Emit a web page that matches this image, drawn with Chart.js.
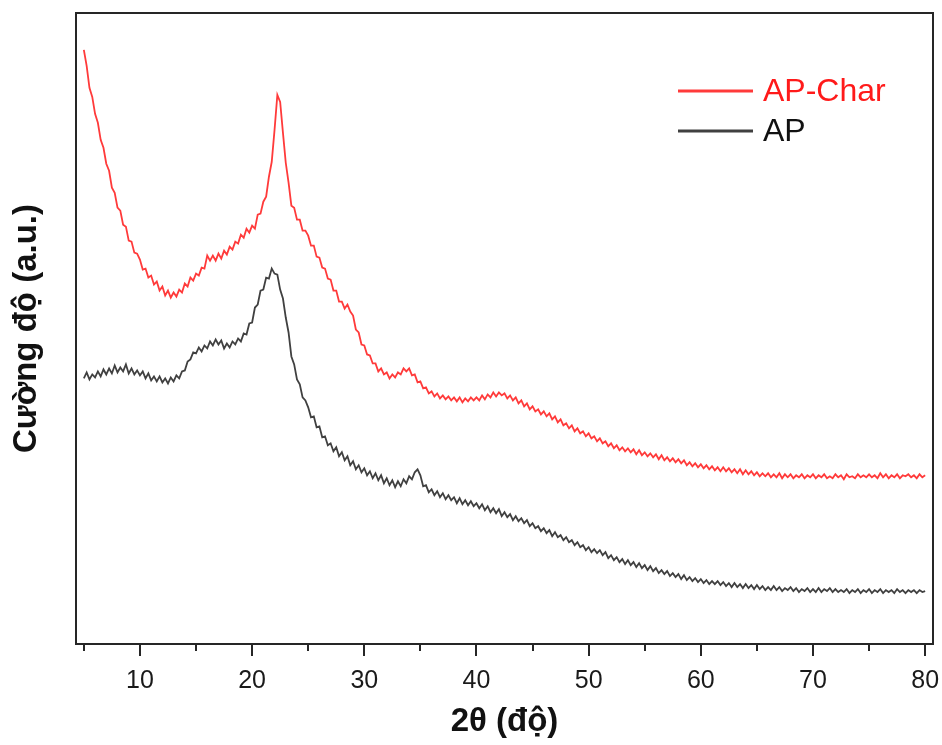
<!DOCTYPE html>
<html>
<head>
<meta charset="utf-8">
<script src="https://cdn.jsdelivr.net/npm/chart.js@4.4.1/dist/chart.umd.min.js"></script>
<style>
  html, body { margin: 0; padding: 0; background: #fff; }
  canvas { display: block; }
</style>
</head>
<body>
<canvas id="xrd" width="942" height="745"></canvas>
<script>
// --- Dati (2θ da 5° a 80°, passo 0.25°) ---
const twoThetaStart = 5;
const twoThetaStep = 0.25;

const apCharCounts = [
  595, 579, 557, 548, 531, 522, 505, 497, 481, 474, 457, 452, 437, 434, 420, 418, 404, 403, 392, 391,
  385, 375, 376, 367, 369, 360, 363, 354, 358, 349, 354, 347, 352, 348, 355, 352, 361, 358, 367, 364,
  371, 369, 377, 376, 389, 384, 389, 384, 391, 386, 394, 390, 398, 395, 403, 401, 410, 407, 416, 412,
  419, 416, 430, 431, 443, 448, 468, 483, 515, 550, 543, 512, 482, 462, 439, 437, 425, 425, 414, 414,
  409, 399, 399, 388, 387, 377, 376, 366, 365, 354, 354, 343, 343, 336, 340, 333, 329, 315, 312, 300,
  299, 290, 289, 281, 281, 273, 276, 270, 272, 266, 270, 267, 272, 270, 276, 273, 276, 269, 270, 262,
  263, 256, 257, 251, 253, 248, 251, 246, 249, 245, 248, 244, 247, 243, 247, 242, 246, 243, 247, 244,
  247, 244, 249, 245, 250, 247, 252, 248, 252, 249, 251, 246, 249, 244, 247, 241, 244, 238, 241, 235,
  238, 233, 235, 230, 233, 228, 231, 225, 228, 222, 225, 219, 221, 216, 219, 213, 216, 211, 213, 208,
  211, 206, 208, 203, 206, 201, 203, 198, 201, 196, 199, 194, 197, 193, 196, 192, 195, 190, 194, 189,
  192, 188, 191, 187, 190, 185, 189, 184, 187, 183, 186, 182, 185, 181, 184, 179, 182, 178, 181, 177,
  180, 176, 179, 175, 178, 174, 177, 173, 177, 173, 176, 172, 175, 171, 175, 170, 174, 170, 173, 169,
  172, 168, 171, 168, 171, 167, 170, 167, 171, 166, 170, 167, 170, 166, 169, 167, 170, 166, 169, 167,
  170, 166, 169, 167, 170, 166, 168, 166, 170, 167, 169, 165, 170, 167, 168, 166, 170, 167, 169, 167,
  170, 167, 169, 166, 171, 167, 170, 166, 169, 167, 170, 166, 169, 168, 170, 167, 169, 166, 170, 167,
  169
];

const apCounts = [
  266, 272, 265, 270, 267, 273, 268, 275, 270, 276, 271, 279, 272, 277, 273, 280, 271, 276, 270, 274,
  269, 273, 266, 271, 264, 268, 263, 268, 262, 266, 261, 267, 263, 269, 266, 273, 274, 283, 285, 292,
  291, 297, 293, 299, 296, 303, 299, 305, 300, 304, 296, 301, 297, 303, 300, 306, 303, 311, 310, 321,
  322, 337, 340, 354, 355, 367, 366, 376, 371, 370, 355, 346, 327, 312, 288, 280, 265, 260, 247, 244,
  237, 227, 228, 217, 218, 207, 208, 199, 201, 193, 197, 188, 192, 184, 188, 179, 183, 175, 179, 172,
  176, 169, 173, 166, 171, 164, 169, 161, 166, 159, 164, 157, 163, 158, 165, 161, 168, 165, 172, 175,
  169, 158, 159, 152, 155, 149, 153, 147, 151, 145, 149, 144, 147, 141, 146, 140, 144, 139, 143, 138,
  141, 136, 140, 134, 138, 132, 136, 131, 135, 128, 132, 127, 130, 124, 128, 123, 126, 121, 124, 118,
  121, 116, 118, 113, 116, 111, 114, 108, 112, 107, 109, 104, 107, 102, 104, 99, 102, 97, 99, 94,
  97, 92, 95, 91, 94, 89, 92, 86, 89, 84, 87, 82, 85, 80, 84, 79, 82, 77, 81, 76,
  79, 74, 78, 73, 76, 71, 74, 70, 73, 68, 71, 67, 70, 65, 69, 64, 67, 63, 66, 62,
  65, 61, 64, 60, 63, 60, 63, 59, 62, 58, 61, 57, 61, 57, 60, 56, 60, 56, 59, 55,
  59, 55, 58, 54, 57, 54, 58, 54, 57, 53, 56, 54, 57, 53, 56, 52, 55, 53, 56, 52,
  55, 52, 56, 52, 55, 53, 56, 52, 55, 52, 54, 52, 55, 51, 54, 52, 55, 51, 54, 52,
  55, 51, 54, 52, 55, 51, 54, 52, 54, 51, 55, 52, 54, 51, 54, 52, 54, 51, 54, 52,
  53
];

const xTickValues = [5, 10, 15, 20, 25, 30, 35, 40, 45, 50, 55, 60, 65, 70, 75, 80];

const seriesConfig = [
  { label: 'AP-Char', data: apCharCounts, color: '#ff3a3a', textColor: '#ff1a1a' },
  { label: 'AP', data: apCounts, color: '#404040', textColor: '#111111' }
];

const FONT = '"Liberation Sans", Arial, sans-serif';

const toPoints = (arr) => arr.map((v, i) => ({ x: twoThetaStart + i * twoThetaStep, y: v }));

// --- Cornice, tacche e legenda ---
const framePlugin = {
  id: 'frame',
  afterDraw(chart) {
    const { ctx, chartArea: a, scales: { x } } = chart;
    ctx.save();
    ctx.strokeStyle = '#262626';
    ctx.lineWidth = 2;
    ctx.strokeRect(a.left, a.top, a.right - a.left, a.bottom - a.top);

    xTickValues.forEach(v => {
      const px = Math.round(x.getPixelForValue(v));
      const len = v % 10 === 0 ? 12 : 7;
      ctx.beginPath();
      ctx.moveTo(px, a.bottom);
      ctx.lineTo(px, a.bottom + len);
      ctx.stroke();
    });

    // legenda
    const x0 = a.right - 255, x1 = a.right - 180;
    ctx.font = '32px ' + FONT;
    ctx.textBaseline = 'middle';
    seriesConfig.forEach((s, i) => {
      const y = a.top + 78 + i * 40;
      ctx.strokeStyle = s.color;
      ctx.lineWidth = 3;
      ctx.beginPath();
      ctx.moveTo(x0, y);
      ctx.lineTo(x1, y);
      ctx.stroke();
      ctx.fillStyle = s.textColor;
      ctx.fillText(s.label, x1 + 10, y + 1);
    });
    ctx.restore();
  }
};

const ctx = document.getElementById('xrd').getContext('2d');
new Chart(ctx, {
  type: 'line',
  data: {
    datasets: seriesConfig.map(s => ({
      label: s.label,
      data: toPoints(s.data),
      borderColor: s.color,
      borderWidth: 1.8,
      pointRadius: 0,
      tension: 0,
      fill: false
    }))
  },
  options: {
    responsive: false,
    animation: false,
    layout: { padding: { top: 13, right: 9, left: 0, bottom: 0 } },
    plugins: { legend: { display: false }, tooltip: { enabled: false } },
    scales: {
      x: {
        type: 'linear',
        min: 4.3,
        max: 80.7,
        afterBuildTicks: (scale) => { scale.ticks = xTickValues.map(v => ({ value: v })); },
        afterFit: (scale) => {
          scale.height = 101;
          scale.paddingLeft = 0;
          scale.paddingRight = 0;
        },
        grid: { display: false, drawTicks: false },
        border: { display: false },
        ticks: {
          padding: 22,
          autoSkip: false,
          maxRotation: 0,
          color: '#1a1a1a',
          font: { family: FONT, size: 25 },
          callback: (v) => (v % 10 === 0 ? String(v) : '')
        },
        title: {
          display: true,
          text: '2θ (độ)',
          color: '#111',
          font: { family: FONT, size: 33, weight: 'bold' },
          padding: { top: 0, bottom: 3 }
        }
      },
      y: {
        min: 0,
        max: 632,
        afterFit: (scale) => { scale.width = 76; },
        grid: { display: false },
        border: { display: false },
        ticks: { display: false },
        title: {
          display: true,
          text: 'Cường độ (a.u.)',
          color: '#111',
          font: { family: FONT, size: 33, weight: 'bold' },
          padding: { top: 7, bottom: 0 }
        }
      }
    }
  },
  plugins: [framePlugin]
});
</script>
</body>
</html>
